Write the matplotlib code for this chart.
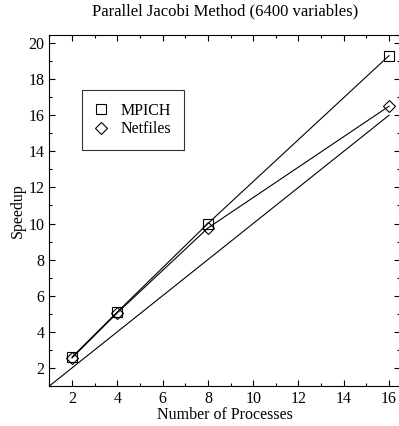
import matplotlib
matplotlib.use("Agg")
import matplotlib.pyplot as plt
from matplotlib.lines import Line2D
from matplotlib.ticker import MultipleLocator

procs = [2, 4, 8, 16]
mpich = [2.6, 5.1, 10.0, 19.3]
netfiles = [2.55, 5.05, 9.75, 16.5]
ideal_x = [1, 16]
ideal_y = [1, 16]

plt.rcParams["font.family"] = ["Liberation Serif", "DejaVu Serif"]

fig = plt.figure(figsize=(3.99, 4.26), dpi=100)
ax = fig.add_axes([0.1238, 0.094, 0.8795, 0.824])

ax.plot(ideal_x, ideal_y, color="black", lw=0.8)
ax.plot(procs, mpich, color="black", lw=0.8, marker="s", ms=7,
        mfc="none", mec="black", mew=0.8)
ax.plot(procs, netfiles, color="black", lw=0.8, marker="D", ms=6,
        mfc="none", mec="black", mew=0.8)

ax.set_xlim(1, 16.5)
ax.set_ylim(1, 20.45)
ax.xaxis.set_major_locator(MultipleLocator(2))
ax.xaxis.set_minor_locator(MultipleLocator(1))
ax.yaxis.set_major_locator(MultipleLocator(2))
ax.yaxis.set_minor_locator(MultipleLocator(1))
ax.tick_params(which="both", direction="in", top=True, right=True,
               labelsize=11.5, width=0.8)
ax.tick_params(which="major", length=4)
ax.tick_params(which="minor", length=2)
for s in ax.spines.values():
    s.set_linewidth(0.8)

ax.set_xlabel("Number of Processes", fontsize=11.5, labelpad=0)
ax.set_ylabel("Speedup", fontsize=11.5, labelpad=2)
ax.set_title("Parallel Jacobi Method (6400 variables)", fontsize=12, pad=14)

handles = [
    Line2D([], [], ls="none", marker="s", ms=7, mfc="none", mec="black", mew=0.8),
    Line2D([], [], ls="none", marker="D", ms=6, mfc="none", mec="black", mew=0.8),
]
leg = ax.legend(handles, ["MPICH", "Netfiles"], loc="upper left",
                bbox_to_anchor=(0.093, 0.843), borderaxespad=0,
                fontsize=11.5, fancybox=False, edgecolor="black",
                shadow=False, borderpad=0.8, handletextpad=0.8,
                labelspacing=0.15, handlelength=0.8)
leg.get_frame().set_linewidth(0.8)

fig.savefig("out.png", dpi=100)
